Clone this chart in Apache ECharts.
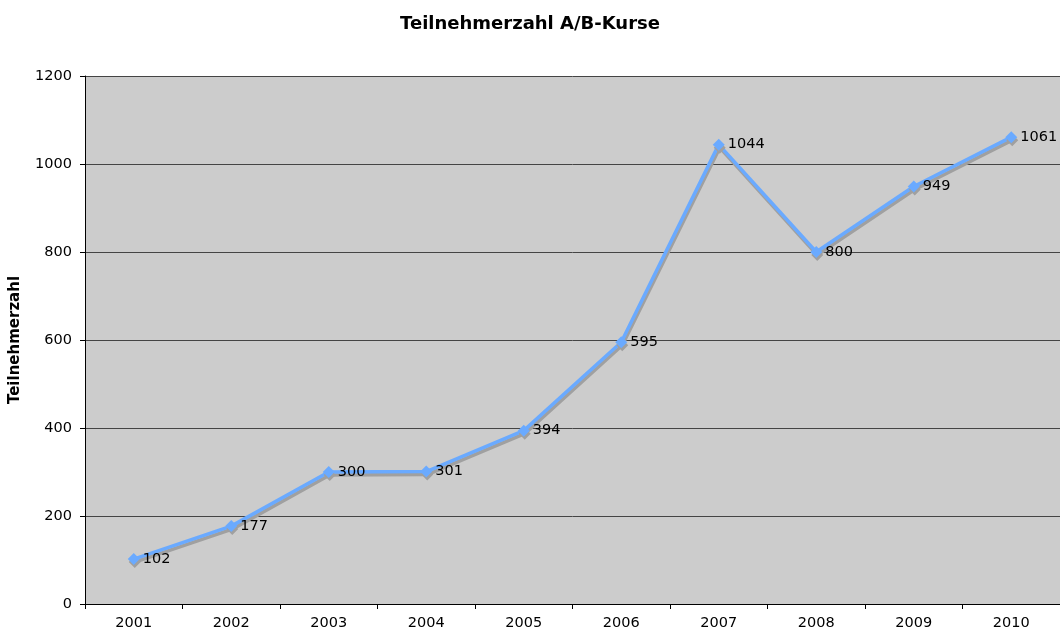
<!DOCTYPE html>
<html>
<head>
<meta charset="utf-8">
<script src="https://cdn.jsdelivr.net/npm/echarts@6/dist/echarts.min.js"></script>
<style>
  html, body { margin: 0; padding: 0; background: #fff; }
  #main { width: 1060px; height: 634px; }
</style>
</head>
<body>
<div id="main"></div>
<script>
var years = ['2001', '2002', '2003', '2004', '2005', '2006', '2007', '2008', '2009', '2010'];
var teilnehmer = [102, 177, 300, 301, 394, 595, 1044, 800, 949, 1061];
var yTicks = [0, 200, 400, 600, 800, 1000, 1200];

var chartDom = document.getElementById('main');
var myChart = echarts.init(chartDom);
var font = 'Verdana, "DejaVu Sans", sans-serif';
var option = {
    animation: false,
    textStyle: { fontFamily: font },
    title: {
        text: 'Teilnehmerzahl A/B-Kurse',
        left: 'center',
        top: 10,
        textStyle: { fontFamily: font, fontSize: 18, fontWeight: 'bold', color: '#000' }
    },
    grid: {
        left: 84,
        right: 0,
        top: 76,
        bottom: 30,
        show: true,
        backgroundColor: '#cccccc',
        borderWidth: 0
    },
    xAxis: {
        type: 'category',
        data: years,
        boundaryGap: true,
        axisLine: { lineStyle: { color: '#000', width: 1 } },
        axisTick: { show: true, length: 5, lineStyle: { color: '#000' } },
        axisLabel: { color: '#000', fontSize: 14.5, margin: 12, fontFamily: font }
    },
    yAxis: {
        type: 'value',
        min: yTicks[0],
        max: yTicks[yTicks.length - 1],
        interval: 200,
        name: 'Teilnehmerzahl',
        nameLocation: 'middle',
        nameGap: 62,
        nameTextStyle: { fontFamily: font, fontSize: 15, fontWeight: 'bold', color: '#000' },
        axisLine: { show: true, lineStyle: { color: '#000', width: 1 } },
        axisTick: { show: true, length: 5, lineStyle: { color: '#000' } },
        axisLabel: {
            color: '#000', fontSize: 14.5, margin: 13, fontFamily: font,
            formatter: function (v) { return String(v); }
        },
        splitLine: { show: true, lineStyle: { color: '#444', width: 1 } }
    },
    series: [
        {
            name: 'Teilnehmerzahl',
            type: 'line',
            data: teilnehmer,
            symbol: 'diamond',
            symbolSize: 12,
            lineStyle: {
                color: '#6aaaff',
                width: 3.5,
                shadowColor: '#a0a0a0',
                shadowOffsetX: 1,
                shadowOffsetY: 3,
                shadowBlur: 0
            },
            itemStyle: {
                color: '#6aaaff',
                shadowColor: '#a0a0a0',
                shadowOffsetX: 1,
                shadowOffsetY: 3,
                shadowBlur: 0
            },
            label: {
                show: true,
                position: 'right',
                distance: 3,
                color: '#000',
                fontSize: 14.5,
                fontFamily: font
            }
        }
    ]
};
option && myChart.setOption(option);
</script>
</body>
</html>
